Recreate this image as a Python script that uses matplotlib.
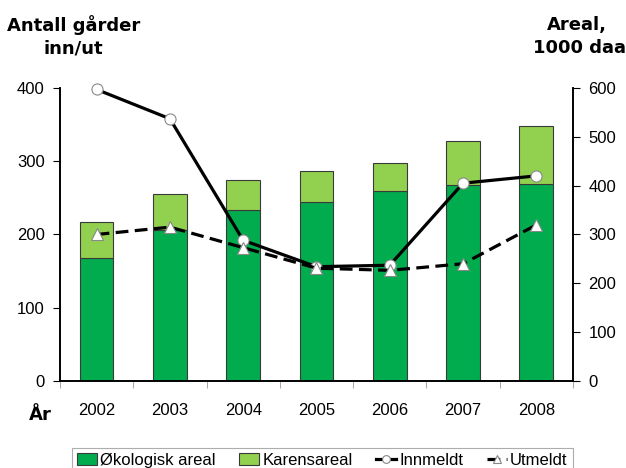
import numpy as np
import matplotlib.pyplot as plt

plt.rcParams['font.family'] = ['Liberation Sans', 'DejaVu Sans']

# data
years = ['2002', '2003', '2004', '2005', '2006', '2007', '2008']
okologisk = [251, 309, 350, 366, 389, 402, 404]       # 1000 daa
totalareal = [325, 382, 411, 431, 447, 491, 523]      # 1000 daa
karens = [t - o for t, o in zip(totalareal, okologisk)]
innmeldt = [398, 358, 192, 156, 158, 270, 280]        # antall gårder
utmeldt = [200, 210, 182, 154, 151, 160, 213]

x = np.arange(len(years))

fig = plt.figure(figsize=(6.26, 4.68), dpi=100)
ax = fig.add_axes([0.0958, 0.186, 0.8195, 0.626])
ax2 = ax.twinx()

# bars on right axis
b1 = ax2.bar(x, okologisk, width=0.46, color='#00AC4E', edgecolor='#3a3a3a', linewidth=0.8, label='Økologisk areal')
b2 = ax2.bar(x, karens, bottom=okologisk, width=0.46, color='#92D050', edgecolor='#3a3a3a', linewidth=0.8, label='Karensareal')

# lines on left axis, above bars
ax.set_zorder(ax2.get_zorder() + 1)
ax.patch.set_visible(False)
l1, = ax.plot(x, innmeldt, color='black', lw=2.3, marker='o', ms=8, clip_on=False,
              mfc='white', mec='#888888', mew=0.8, label='Innmeldt')
l2, = ax.plot(x, utmeldt, color='black', lw=2.3, ls=(0, (4, 2)), marker='^', ms=9, clip_on=False,
              mfc='white', mec='#888888', mew=0.8, label='Utmeldt')

ax.set_xlim(-0.5, len(years) - 0.5)
ax.set_ylim(0, 400)
ax2.set_ylim(0, 600)
ax.set_yticks([0, 100, 200, 300, 400])
ax2.set_yticks([0, 100, 200, 300, 400, 500, 600])

ax.set_xticks(x)
ax.set_xticklabels(years, fontsize=12)
ax.set_xticks(np.arange(-0.5, len(years), 1), minor=True)
ax.tick_params(axis='x', which='major', length=0, pad=16)
ax.tick_params(axis='x', which='minor', length=5, color='#999999')
ax.tick_params(axis='y', labelsize=12, length=5, pad=6)
ax2.tick_params(axis='y', labelsize=12, length=5, pad=6)

for a in (ax, ax2):
    a.spines['top'].set_visible(False)
    a.spines['left'].set_linewidth(1.2)
    a.spines['right'].set_linewidth(1.2)
    a.spines['bottom'].set_linewidth(1.2)

title_font = dict(fontsize=13, fontweight='bold', family='DejaVu Sans', ha='center', va='center')
fig.text(0.117, 0.947, 'Antall gårder', **title_font)
fig.text(0.117, 0.897, 'inn/ut', **title_font)
fig.text(0.922, 0.947, 'Areal,', **title_font)
fig.text(0.925, 0.897, '1000 daa', **title_font)
fig.text(0.064, 0.113, 'År', **title_font)

leg = fig.legend([b1, b2, l1, l2], ['Økologisk areal', 'Karensareal', 'Innmeldt', 'Utmeldt'],
                 loc='lower center', bbox_to_anchor=(0.515, -0.028), ncol=4, fontsize=12,
                 frameon=True, fancybox=False, edgecolor='#999999', handlelength=1.2,
                 handletextpad=0.2, columnspacing=1.4, borderpad=0.3, markerscale=0.7)
leg.get_frame().set_linewidth(0.8)

fig.savefig('out.png', dpi=100)
